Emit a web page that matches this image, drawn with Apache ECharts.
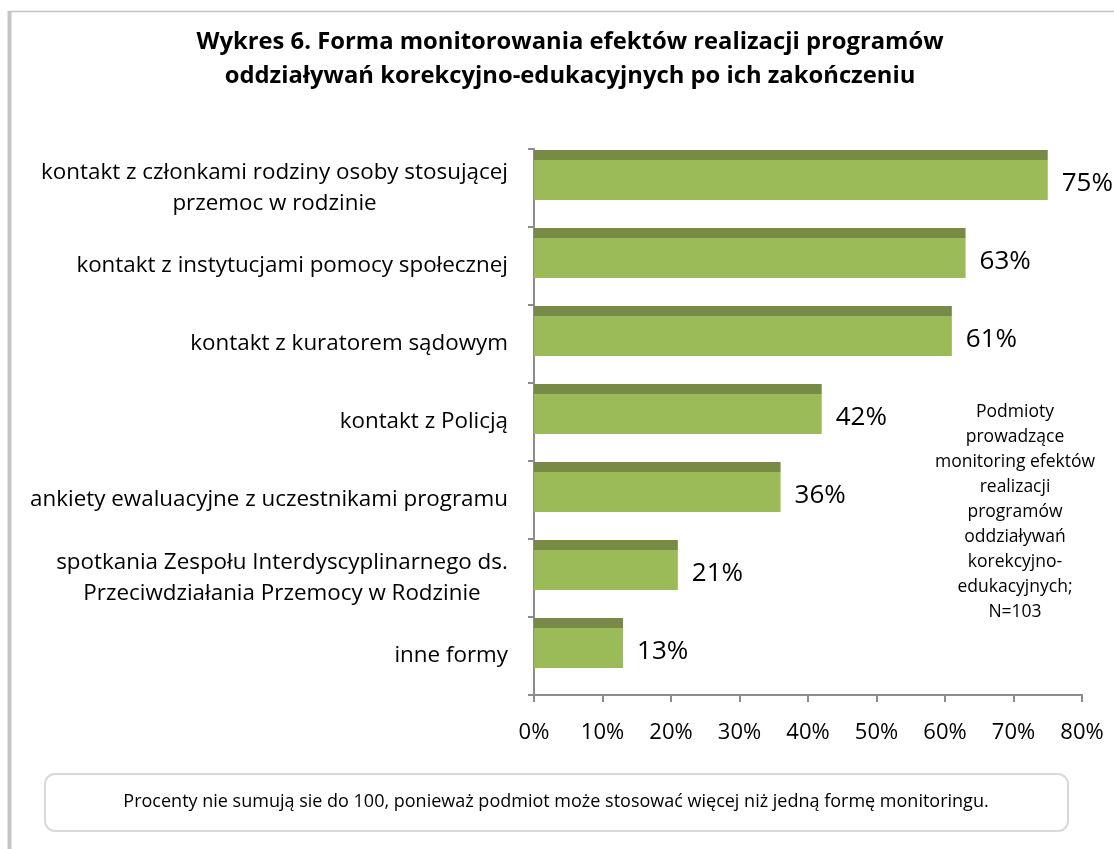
<!DOCTYPE html>
<html><head><meta charset="utf-8">
<script src="https://cdn.jsdelivr.net/npm/echarts@6/dist/echarts.min.js"></script>
<style>html,body{margin:0;padding:0;background:#fff}#c{width:1114px;height:849px}</style>
</head><body><div id="c"></div>
<script>
const titleLines = ['Wykres 6. Forma monitorowania efektów realizacji programów', 'oddziaływań korekcyjno-edukacyjnych po ich zakończeniu'];
const categories = [
  'kontakt z członkami rodziny osoby stosującej\nprzemoc w rodzinie',
  'kontakt z instytucjami pomocy społecznej',
  'kontakt z kuratorem sądowym',
  'kontakt z Policją',
  'ankiety ewaluacyjne z uczestnikami programu',
  'spotkania Zespołu Interdyscyplinarnego ds.\nPrzeciwdziałania Przemocy w Rodzinie',
  'inne formy'
];
const values = [75, 63, 61, 42, 36, 21, 13];
const xTicks = [0, 10, 20, 30, 40, 50, 60, 70, 80];
const sideNote = 'Podmioty\nprowadzące\nmonitoring efektów\nrealizacji\nprogramów\noddziaływań\nkorekcyjno-\nedukacyjnych;\nN=103';
const footNote = 'Procenty nie sumują sie do 100, ponieważ podmiot może stosować więcej niż jedną formę monitoringu.';

const FONT = '"Open Sans", "Noto Sans", sans-serif';
const catSize = 22.4;
const cv = document.createElement('canvas').getContext('2d');
cv.font = catSize + 'px "Open Sans"';
function lineW(s){ return Math.ceil(cv.measureText(s).width); }
function richFor() {
  const r = {};
  categories.forEach(v => {
    const ls = v.split('\n');
    if (ls.length > 1) {
      const w = Math.max(...ls.map(lineW));
      r['c' + w] = {fontFamily: FONT, fontSize: catSize, lineHeight: 31, align: 'center', width: w, color: '#000'};
    }
  });
  return r;
}

const chart = echarts.init(document.getElementById('c'), null, {renderer: 'canvas'});
chart.setOption({
  backgroundColor: '#fff',
  animation: false,
  title: {
    text: titleLines.join('\n'),
    left: 565, top: 20, textAlign: 'center',
    textStyle: {fontFamily: FONT, fontWeight: 'bold', fontSize: 23.8, lineHeight: 34, color: '#000'}
  },
  grid: {left: 534, right: 32, top: 149, bottom: 154, containLabel: false},
  xAxis: {
    type: 'value', min: 0, max: 80, interval: 10,
    axisLine: {show: true, lineStyle: {color: '#8c8c8c', width: 2}},
    axisTick: {show: true, length: 7, lineStyle: {color: '#8c8c8c', width: 2}},
    splitLine: {show: false},
    axisLabel: {margin: 27, fontFamily: FONT, fontSize: 22, color: '#000',
      formatter: v => xTicks.includes(v) ? v + '%' : ''}
  },
  yAxis: {
    type: 'category', inverse: true, data: categories,
    axisLine: {show: true, lineStyle: {color: '#8c8c8c', width: 2}},
    axisTick: {show: true, length: 6, lineStyle: {color: '#8c8c8c', width: 2}},
    axisLabel: {
      margin: 26, align: 'right', fontFamily: FONT, fontSize: catSize, color: '#000', lineHeight: 31,
      formatter: function (v) {
        const ls = v.split('\n');
        if (ls.length === 1) return v;
        const w = Math.max(...ls.map(lineW));
        return ls.map(l => '{c' + w + '|' + l + '}').join('\n');
      },
      rich: richFor()
    }
  },
  series: [
    {
      type: 'bar', data: values, barWidth: 50, barGap: '0%',
      itemStyle: {color: new echarts.graphic.LinearGradient(0, 0, 0, 1, [
        {offset: 0, color: '#778b45'}, {offset: 0.2, color: '#778b45'},
        {offset: 0.2, color: '#9bbb59'}, {offset: 1, color: '#9bbb59'}])},
      label: {show: true, position: 'right', distance: 14, offset: [0, 9], formatter: '{c}%',
        fontFamily: FONT, fontSize: 26, color: '#000'}
    },
    {type: 'bar', data: values.map(() => '-'), barWidth: 26, silent: true}
  ],
  graphic: [
    {type: 'line', shape: {x1: 9.5, y1: 11, x2: 9.5, y2: 849}, style: {stroke: '#c4c4c4', lineWidth: 4}},
    {type: 'line', shape: {x1: 8, y1: 11.5, x2: 1114, y2: 11.5}, style: {stroke: '#c4c4c4', lineWidth: 1.5}},
    {type: 'text', x: 1015, y: 400, style: {text: sideNote, textAlign: 'center',
      fontFamily: FONT, fontSize: 17.5, lineHeight: 25, fill: '#000'}},
    {type: 'rect', shape: {x: 45, y: 774, width: 1023, height: 57, r: 10},
      style: {fill: '#fff', stroke: '#d9d9d9', lineWidth: 2}},
    {type: 'text', x: 556, y: 802, style: {text: footNote, textAlign: 'center', textVerticalAlign: 'middle',
      fontFamily: FONT, fontSize: 18, fill: '#000'}}
  ]
});
</script></body></html>
